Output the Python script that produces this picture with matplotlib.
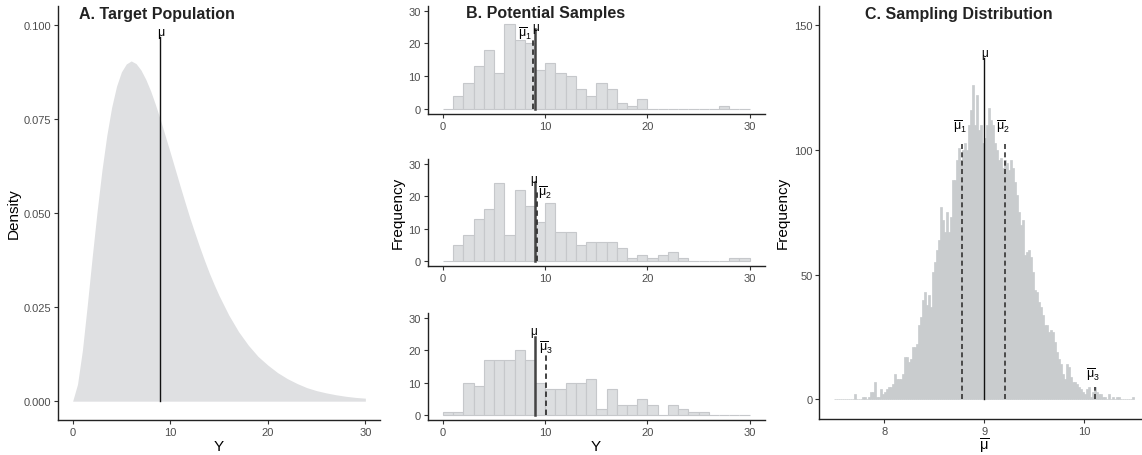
import numpy as np
import matplotlib.pyplot as plt

plt.rcParams['font.family'] = ['Liberation Sans', 'DejaVu Sans']
plt.rcParams['mathtext.fontset'] = 'custom'
plt.rcParams['mathtext.rm'] = 'Liberation Sans'
plt.rcParams['mathtext.it'] = 'Liberation Sans'
plt.rcParams['mathtext.bf'] = 'Liberation Sans:bold'

# --- DATA ---
# A. population density
pop_y = [0, 0.5, 1, 1.5, 2, 2.5, 3, 3.5, 4, 4.5, 5, 5.5, 6, 6.5, 7, 7.5, 8, 8.5,
         9, 9.5, 10, 10.5, 11, 11.5, 12, 12.5, 13, 13.5, 14, 14.5, 15, 16, 17, 18,
         19, 20, 21, 22, 23, 24, 25, 26, 27, 28, 29, 30]
pop_density = [0.0, 0.0045, 0.0135, 0.0255, 0.0382, 0.0503, 0.0613, 0.0706, 0.0781,
               0.0837, 0.0875, 0.0896, 0.0904, 0.0897, 0.0880, 0.0855, 0.0824, 0.0787,
               0.0747, 0.0704, 0.0661, 0.0617, 0.0573, 0.0530, 0.0488, 0.0449, 0.0411,
               0.0375, 0.0341, 0.0310, 0.0281, 0.0229, 0.0185, 0.0149, 0.0119, 0.0096,
               0.0076, 0.0060, 0.0047, 0.0036, 0.0028, 0.0022, 0.0017, 0.0013, 0.0010,
               0.0008]
mu = 9.0

# B. three samples, counts per unit bin 0..30
sample_edges = list(range(0, 30))
sample1 = [0, 4, 8, 13, 18, 11, 26, 21, 20, 12, 14, 11, 10, 6, 4, 8, 6, 2, 1, 3,
           0, 0, 0, 0, 0, 0, 0, 1, 0, 0]
sample2 = [0, 5, 8, 13, 16, 24, 8, 22, 17, 12, 18, 9, 9, 5, 6, 6, 6, 4, 1, 2,
           1, 2, 3, 1, 0, 0, 0, 0, 1, 1]
sample3 = [1, 1, 10, 9, 17, 17, 17, 20, 17, 10, 8, 8, 10, 10, 11, 2, 8, 3, 3, 5,
           3, 0, 3, 2, 1, 1, 0, 0, 0, 0]
sample_means = [8.83, 9.2, 10.12]

# C. sampling distribution, bins of 0.02 from 7.5 to 10.5
means_start = 7.5
means_binwidth = 0.02
means_counts = [0, 0, 0, 0, 0, 0, 0, 0, 0, 0, 2, 0, 0, 0, 1, 1, 0, 1, 3, 3,
                7, 1, 1, 4, 2, 3, 4, 5, 5, 6, 10, 8, 8, 8, 10, 17, 17, 15, 16, 21,
                21, 22, 30, 33, 40, 43, 38, 42, 37, 51, 55, 60, 64, 77, 72, 67, 75, 67, 73, 88,
                88, 96, 101, 96, 100, 103, 100, 110, 116, 126, 110, 122, 108, 110, 103, 105, 110, 117, 112, 110,
                103, 100, 96, 97, 93, 96, 95, 92, 96, 93, 87, 82, 75, 70, 72, 58, 59, 60, 57, 51,
                44, 43, 39, 37, 34, 30, 30, 27, 28, 27, 23, 19, 16, 14, 10, 8, 14, 13, 9, 7,
                7, 6, 5, 4, 3, 2, 4, 5, 1, 3, 5, 3, 2, 2, 1, 1, 0, 2, 0, 1,
                0, 1, 1, 0, 0, 0, 0, 0, 0, 1]
c_means = [8.78, 9.21, 10.11]

W, H = 1142, 456
fig = plt.figure(figsize=(W / 100, H / 100), dpi=100)


def box(left, top, right, bottom):
    return [left / W, (H - bottom) / H, (right - left) / W, (bottom - top) / H]


def style(ax):
    for s in ['top', 'right']:
        ax.spines[s].set_visible(False)
    for s in ['left', 'bottom']:
        ax.spines[s].set_linewidth(1.0)
        ax.spines[s].set_color('#222222')
    ax.tick_params(length=3, width=0.8, color='#333333', labelsize=8,
                   labelcolor='#4d4d4d', pad=2)


bar_fill = '#dcdee0'
bar_edge = '#c6c8cb'
dash = (0, (3, 2))
lab_fs = 9

# ---- A. Target Population ----
axA = fig.add_axes(box(58, 7, 380, 421))
style(axA)
axA.fill_between(pop_y, 0, pop_density, color='#dfe0e2', lw=0)
axA.plot([mu, mu], [0, 0.0968], color='#111111', lw=1.0)
axA.text(mu, 0.0966, 'μ', ha='center', va='bottom', fontsize=9)
axA.set_xlim(-1.5, 31.5)
axA.set_ylim(-0.005, 0.105)
axA.set_xticks([0, 10, 20, 30])
axA.set_yticks([0, 0.025, 0.05, 0.075, 0.1])
axA.set_yticklabels(['0.000', '0.025', '0.050', '0.075', '0.100'])
axA.text(0.065, 0.983, 'A. Target Population', transform=axA.transAxes,
         fontsize=11.5, fontweight='bold', va='center', color='#222222')
fig.text(14 / W, 1 - 214 / H, 'Density', rotation=90, ha='center', va='center', fontsize=11)
fig.text(219 / W, 1 - 447 / H, 'Y', ha='center', va='center', fontsize=11)

# ---- B. Potential Samples ----
b_rows = [(6.7, 115), (160, 267.3), (314, 421)]
samples = [sample1, sample2, sample3]
b_axes = []
for k, (top, bottom) in enumerate(b_rows):
    ax = fig.add_axes(box(427.7, top, 765, bottom))
    style(ax)
    ax.bar(sample_edges, samples[k], width=1, align='edge', color=bar_fill,
           edgecolor=bar_edge, lw=0.8)
    ax.set_xlim(-1.5, 31.5)
    ax.set_ylim(-1.5, 31.5)
    ax.set_xticks([0, 10, 20, 30])
    ax.set_yticks([0, 10, 20, 30])
    b_axes.append(ax)

# sample 1
ax = b_axes[0]
ax.plot([mu, mu], [0, 24.3], color='#444444', lw=1.8)
ax.plot([sample_means[0]] * 2, [0, 21.2], color='#333333', lw=1.3, ls=dash)
ax.text(mu + 0.05, 23.3, 'μ', ha='center', va='bottom', fontsize=8.5)
ax.text(8.7, 20.6, r'$\overline{\mu}_1$', ha='right', va='bottom', fontsize=lab_fs)
ax.text(0.114, 0.935, 'B. Potential Samples', transform=ax.transAxes,
        fontsize=11.5, fontweight='bold', va='center', color='#222222')
# sample 2
ax = b_axes[1]
ax.plot([mu, mu], [0, 24.4], color='#444444', lw=1.8)
ax.plot([sample_means[1]] * 2, [0, 21.3], color='#333333', lw=1.3, ls=dash)
ax.text(mu - 0.1, 23.6, 'μ', ha='center', va='bottom', fontsize=8.5)
ax.text(9.25, 19.0, r'$\overline{\mu}_2$', ha='left', va='bottom', fontsize=lab_fs)
# sample 3
ax = b_axes[2]
ax.plot([mu, mu], [0, 24.1], color='#444444', lw=1.8)
ax.plot([sample_means[2]] * 2, [0, 19.5], color='#333333', lw=1.3, ls=dash)
ax.text(mu - 0.1, 24.0, 'μ', ha='center', va='bottom', fontsize=8.5)
ax.text(10.05, 21.0, r'$\overline{\mu}_3$', ha='center', va='center', fontsize=lab_fs)

fig.text(398 / W, 1 - 213 / H, 'Frequency', rotation=90, ha='center', va='center', fontsize=11)
fig.text(596 / W, 1 - 447 / H, 'Y', ha='center', va='center', fontsize=11)

# ---- C. Sampling Distribution ----
axC = fig.add_axes(box(819.3, 7.3, 1142, 420))
style(axC)
c_left = means_start + means_binwidth * np.arange(len(means_counts))
axC.bar(c_left, means_counts, width=means_binwidth, align='edge',
        color='#c9ccce', edgecolor='#c9ccce', lw=0.5)
axC.plot([mu, mu], [0, 137], color='#111111', lw=1.0)
axC.text(mu, 136.5, 'μ', ha='center', va='bottom', fontsize=8.5)
c_tops = [103.8, 103.5, 5]
c_lab_y = [106.5, 106.5, 7.0]
for i in range(3):
    axC.plot([c_means[i]] * 2, [0, c_tops[i]], color='#333333', lw=1.2, ls=dash)
    axC.text(c_means[i] - 0.02, c_lab_y[i], r'$\overline{\mu}_%d$' % (i + 1), ha='center',
             va='bottom', fontsize=lab_fs)
axC.set_xlim(7.35, 10.577)
axC.set_ylim(-7.9, 157.7)
axC.set_xticks([8, 9, 10])
axC.set_yticks([0, 50, 100, 150])
axC.text(0.142, 0.983, 'C. Sampling Distribution', transform=axC.transAxes,
         fontsize=11.5, fontweight='bold', va='center', color='#222222')
fig.text(783 / W, 1 - 213 / H, 'Frequency', rotation=90, ha='center', va='center', fontsize=11)
fig.text(984 / W, 1 - 446 / H, r'$\overline{\mu}$', ha='center', va='center', fontsize=10.5)

fig.savefig('out.png', dpi=100)
